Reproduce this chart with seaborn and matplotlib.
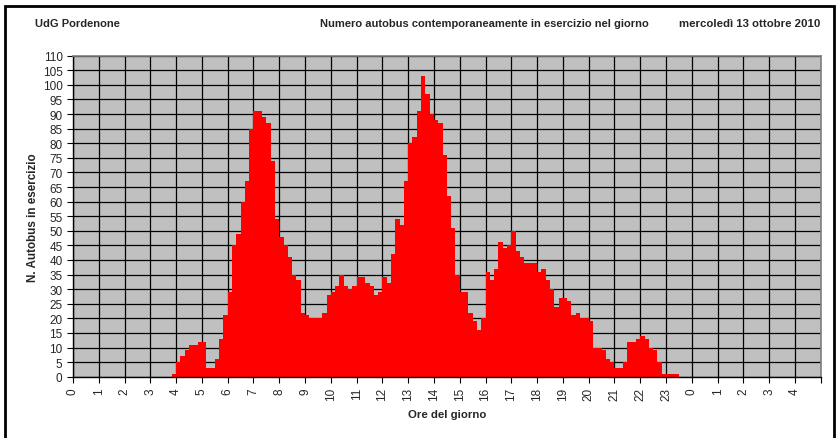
import numpy as np
import pandas as pd
import matplotlib
matplotlib.use("Agg")
import matplotlib.pyplot as plt
import seaborn as sns
from matplotlib.patches import Rectangle

sns.set_style("white")
plt.rcParams["font.family"] = ["Liberation Sans", "DejaVu Sans"]

# Buses in service, one value per 10-minute slot (00:00 .. 04:50 of the next day).
# Slots before 03:50 carry no buses.
leading_empty_slots = 23
buses_03 = [1]                          # 03:50
buses_04 = [5, 7, 9, 11, 11, 12]
buses_05 = [12, 3, 3, 6, 13, 21]
buses_06 = [29, 45, 49, 60, 67, 85]
buses_07 = [91, 91, 89, 87, 74, 54]
buses_08 = [48, 45, 41, 35, 33, 22]
buses_09 = [21, 20, 20, 20, 22, 28]
buses_10 = [29, 31, 35, 31, 30, 31]
buses_11 = [34, 34, 32, 31, 28, 29]
buses_12 = [34, 32, 42, 54, 52, 67]
buses_13 = [80, 82, 91, 103, 97, 90]
buses_14 = [88, 87, 76, 62, 51, 35]
buses_15 = [29, 29, 22, 19, 16, 20]
buses_16 = [36, 33, 37, 46, 44, 45]
buses_17 = [50, 43, 41, 39, 39, 39]
buses_18 = [36, 37, 33, 30, 24, 27]
buses_19 = [27, 26, 21, 22, 20, 20]
buses_20 = [19, 10, 10, 9, 6, 5]
buses_21 = [3, 3, 5, 12, 12, 13]
buses_22 = [14, 13, 10, 9, 5, 1]
buses_23 = [1, 1, 1]
total_slots = 174

hour_labels = [str(h % 24) for h in range(29)]

active = (buses_03 + buses_04 + buses_05 + buses_06 + buses_07 + buses_08 +
          buses_09 + buses_10 + buses_11 + buses_12 + buses_13 + buses_14 +
          buses_15 + buses_16 + buses_17 + buses_18 + buses_19 + buses_20 +
          buses_21 + buses_22 + buses_23)
values = [0] * leading_empty_slots + active
values += [0] * (total_slots - len(values))

df = pd.DataFrame({"slot": np.arange(total_slots), "buses": values})

W, H = 840, 439
fig = plt.figure(figsize=(W / 100, H / 100), dpi=100)
ax = fig.add_axes([73 / W, (H - 377.7) / H, (820.7 - 73) / W, (377.7 - 56.7) / H])

sns.barplot(data=df, x="slot", y="buses", color="#FF0000", saturation=1,
            width=1.0, linewidth=0, edgecolor="none", errorbar=None, ax=ax)

ax.set_facecolor("#C0C0C0")
ax.set_xlim(-0.5, total_slots - 0.5)
ax.set_ylim(0, 110)
ax.set_yticks(range(0, 111, 5))
ax.set_xticks([6 * k - 0.5 for k in range(30)])
ax.set_xticklabels(hour_labels + [""], rotation=90)
ax.grid(True, color="black", linewidth=0.9)
ax.set_axisbelow(True)

ax.tick_params(axis="both", direction="out", length=4, width=0.8,
               color="black", labelsize=8.5, pad=3.5)
ax.tick_params(axis="y", left=True)
ax.tick_params(axis="x", bottom=True)

for side in ("top", "right"):
    ax.spines[side].set_color("#808080")
    ax.spines[side].set_linewidth(1.2)
for side in ("left", "bottom"):
    ax.spines[side].set_color("black")
    ax.spines[side].set_linewidth(1.0)

ax.set_xlabel("Ore del giorno", fontsize=8.2, fontweight="bold", labelpad=6)
ax.set_ylabel("N. Autobus in esercizio", fontsize=8.4, fontweight="bold", labelpad=3)

ty = 1 - 24 / H
fig.text(35 / W, ty, "UdG Pordenone", fontsize=8, fontweight="bold", va="center", ha="left")
fig.text(320 / W, ty, "Numero autobus contemporaneamente in esercizio nel giorno",
         fontsize=8, fontweight="bold", va="center", ha="left")
fig.text(820 / W, ty, "mercoledì 13 ottobre 2010", fontsize=8.2, fontweight="bold",
         va="center", ha="right")

fig.patches.append(Rectangle((5 / W, -0.05), (834 - 5) / W, 0.05 + 1 - 7 / H,
                             transform=fig.transFigure, fill=False,
                             edgecolor="black", linewidth=2, clip_on=False))

fig.savefig("out.png", dpi=100, facecolor="white")
